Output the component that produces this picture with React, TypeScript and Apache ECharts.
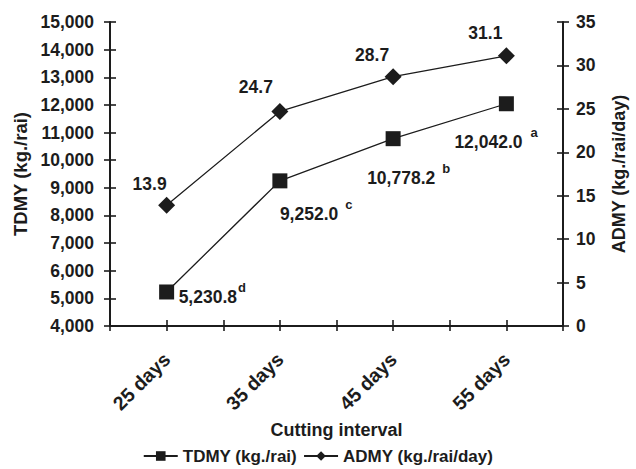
import React, { useEffect, useRef } from "react";
import * as echarts from "echarts";

const categories = ["25 days", "35 days", "45 days", "55 days"];
const tdmy = [5230.8, 9252.0, 10778.2, 12042.0];
const tdmyGrade = ["d", "c", "b", "a"];
const admy = [13.9, 24.7, 28.7, 31.1];
const leftTicks = { min: 4000, max: 15000, interval: 1000 };
const rightTicks = { min: 0, max: 35, interval: 5 };

// label layout (style only)
const tdmyLabelOffset = [[12, 5], [0, 33], [-26, 39], [-52, 38]];
const tdmyGradeGap = [1, 7, 7, 8];
const admyLabelOffset = [[-17, -21], [-24, -24], [-21, -22], [-21, -23]];

const FONT = "'Liberation Sans', Arial, sans-serif";
const INK = "#1c1c1c";

const fmt = new Intl.NumberFormat("en-US", { minimumFractionDigits: 1, maximumFractionDigits: 1 });

export default function App() {
  const ref = useRef<HTMLDivElement>(null);
  useEffect(() => {
    const chart = echarts.init(ref.current!, null, { renderer: "svg" });
    const xPos = (i: number) => 2 * i + 1;
    const tickStyle = { color: INK, width: 1.6 };
    const labelFont = { fontFamily: FONT, fontWeight: "bold" as const, fontSize: 17.5, color: INK };
    const option: any = {
      animation: false,
      backgroundColor: "#fff",
      grid: { left: 110, right: 65, top: 22, bottom: 143, containLabel: false },
      legend: {
        top: 446,
        left: "center",
        padding: 0,
        itemWidth: 34,
        itemHeight: 12,
        itemGap: 6,
        textStyle: { fontFamily: FONT, fontWeight: "bold", fontSize: 17, color: INK, lineHeight: 20 },
        data: ["TDMY (kg./rai)", "ADMY (kg./rai/day)"],
      },
      xAxis: [
        {
          type: "value",
          min: 0,
          max: 8,
          interval: 1,
          position: "bottom",
          name: "Cutting interval",
          nameLocation: "middle",
          nameGap: 92,
          nameTextStyle: { fontFamily: FONT, fontWeight: "bold", fontSize: 18, color: INK },
          axisLine: { show: true, onZero: false, lineStyle: { color: INK, width: 2 } },
          axisTick: { show: true, length: 5, lineStyle: tickStyle },
          splitLine: { show: false },
          axisLabel: {
            ...labelFont,
            fontSize: 19.5,
            rotate: 45,
            margin: 30,
            formatter: (v: number) => (v % 2 === 1 ? categories[(v - 1) / 2] : ""),
          },
        },
        {
          type: "value",
          min: 0,
          max: 8,
          interval: 1,
          position: "bottom",
          axisLine: { show: false, onZero: false },
          axisTick: { show: true, inside: true, length: 6, lineStyle: tickStyle },
          splitLine: { show: false },
          axisLabel: { show: false },
        },
      ],
      yAxis: [
        {
          type: "value",
          position: "left",
          ...leftTicks,
          name: "TDMY (kg./rai)",
          nameLocation: "middle",
          nameRotate: 90,
          nameGap: 78,
          nameTextStyle: { fontFamily: FONT, fontWeight: "bold", fontSize: 18.5, color: INK },
          axisLine: { show: true, onZero: false, lineStyle: { color: INK, width: 2 } },
          axisTick: { show: true, length: 6, lineStyle: tickStyle },
          splitLine: { show: false },
          axisLabel: { ...labelFont, margin: 16, formatter: (v: number) => v.toLocaleString("en-US") },
        },
        {
          type: "value",
          position: "right",
          ...rightTicks,
          name: "ADMY (kg./rai/day)",
          nameLocation: "middle",
          nameRotate: 90,
          nameGap: 47,
          nameTextStyle: { fontFamily: FONT, fontWeight: "bold", fontSize: 18, color: INK },
          axisLine: { show: true, onZero: false, lineStyle: { color: INK, width: 2 } },
          axisTick: { show: true, length: 6, lineStyle: tickStyle },
          splitLine: { show: false },
          axisLabel: { ...labelFont, margin: 13 },
        },
        {
          type: "value",
          position: "left",
          ...leftTicks,
          axisLine: { show: false, onZero: false },
          axisTick: { show: true, inside: true, length: 6, lineStyle: tickStyle },
          splitLine: { show: false },
          axisLabel: { show: false },
        },
        {
          type: "value",
          position: "right",
          ...rightTicks,
          axisLine: { show: false, onZero: false },
          axisTick: { show: true, inside: true, length: 6, lineStyle: tickStyle },
          splitLine: { show: false },
          axisLabel: { show: false },
        },
      ],
      series: [
        {
          name: "TDMY (kg./rai)",
          type: "line",
          xAxisIndex: 0,
          yAxisIndex: 0,
          symbol: "rect",
          symbolSize: 15,
          itemStyle: { color: INK },
          lineStyle: { color: INK, width: 1.3 },
          data: tdmy.map((v, i) => ({
            value: [xPos(i), v],
            label: {
              show: true,
              position: "inside",
              align: "left",
              verticalAlign: "middle",
              offset: tdmyLabelOffset[i],
              formatter: `{v|${fmt.format(v)}}{s|${tdmyGrade[i]}}`,
              rich: {
                v: { ...labelFont, verticalAlign: "middle" },
                s: {
                  fontFamily: FONT,
                  fontWeight: "bold",
                  fontSize: 13,
                  color: INK,
                  verticalAlign: "middle",
                  padding: [0, 0, 18, tdmyGradeGap[i]],
                },
              },
            },
          })),
        },
        {
          name: "ADMY (kg./rai/day)",
          type: "line",
          xAxisIndex: 0,
          yAxisIndex: 1,
          symbol: "diamond",
          symbolSize: 17,
          itemStyle: { color: INK },
          lineStyle: { color: INK, width: 1.3 },
          data: admy.map((v, i) => ({
            value: [xPos(i), v],
            label: {
              show: true,
              position: "inside",
              align: "center",
              verticalAlign: "middle",
              offset: admyLabelOffset[i],
              formatter: v.toFixed(1),
              ...labelFont,
            },
          })),
        },
      ],
    };
    chart.setOption(option);
    return () => chart.dispose();
  }, []);
  return <div ref={ref} style={{ position: "fixed", left: 0, top: 0, width: 636, height: 469 }} />;
}
